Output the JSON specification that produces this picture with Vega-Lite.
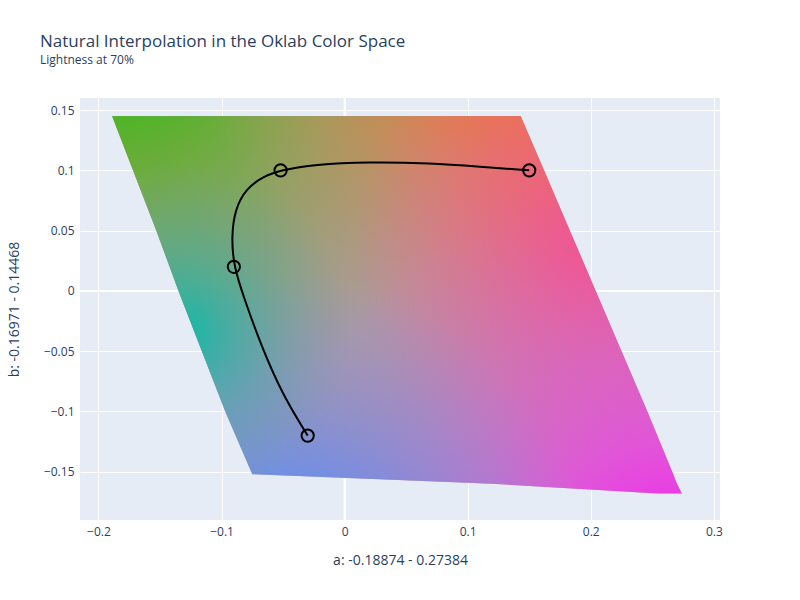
{
  "$schema": "https://vega.github.io/schema/vega-lite/v6.json",
  "width": 640,
  "height": 422,
  "autosize": {"type": "none"},
  "padding": {"left": 80, "top": 98, "right": 80, "bottom": 80},
  "background": "white",
  "title": {
    "text": "Natural Interpolation in the Oklab Color Space",
    "subtitle": "Lightness at 70%",
    "anchor": "start",
    "frame": "group",
    "dx": -40,
    "offset": 30,
    "font": "Open Sans",
    "fontSize": 17,
    "fontWeight": "normal",
    "color": "#2a3f5f",
    "subtitleFont": "Open Sans",
    "subtitleFontSize": 12,
    "subtitleColor": "#2a3f5f",
    "subtitlePadding": 4
  },
  "datasets": {
    "gamut": [
      {"b": 0.145, "xl": -0.189, "xr": 0.143},
      {"b": 0.1, "xl": -0.172, "xr": 0.162},
      {"b": 0.05, "xl": -0.153, "xr": 0.183},
      {"b": 0.0, "xl": -0.135, "xr": 0.204},
      {"b": -0.05, "xl": -0.116, "xr": 0.225},
      {"b": -0.1, "xl": -0.097, "xr": 0.246},
      {"b": -0.152, "xl": -0.075, "xr": 0.267},
      {"b": -0.16, "xl": 0.12, "xr": 0.27},
      {"b": -0.168, "xl": 0.255, "xr": 0.274}
    ],
    "path": [
      {"i": 0, "a": -0.03, "b": -0.12},
      {"i": 1, "a": -0.05, "b": -0.087},
      {"i": 2, "a": -0.068, "b": -0.045},
      {"i": 3, "a": -0.082, "b": -0.005},
      {"i": 4, "a": -0.09, "b": 0.02},
      {"i": 5, "a": -0.092, "b": 0.045},
      {"i": 6, "a": -0.089, "b": 0.068},
      {"i": 7, "a": -0.08, "b": 0.085},
      {"i": 8, "a": -0.066, "b": 0.095},
      {"i": 9, "a": -0.052, "b": 0.1},
      {"i": 10, "a": -0.025, "b": 0.105},
      {"i": 11, "a": 0.02, "b": 0.107},
      {"i": 12, "a": 0.07, "b": 0.106},
      {"i": 13, "a": 0.11, "b": 0.103},
      {"i": 14, "a": 0.15, "b": 0.1}
    ],
    "stops": [
      {"a": -0.03, "b": -0.12},
      {"a": -0.09, "b": 0.02},
      {"a": -0.052, "b": 0.1},
      {"a": 0.15, "b": 0.1}
    ]
  },
  "encoding": {
    "x": {"type": "quantitative", "scale": {"domain": [-0.215, 0.305], "nice": false, "zero": false}},
    "y": {"type": "quantitative", "scale": {"domain": [-0.19, 0.16], "nice": false, "zero": false}}
  },
  "layer": [
    {
      "data": {"values": [{"v": 0}]},
      "mark": {"type": "rule", "color": "white", "strokeWidth": 2},
      "encoding": {"x": {"field": "v", "type": "quantitative"}, "y": null}
    },
    {
      "data": {"values": [{"v": 0}]},
      "mark": {"type": "rule", "color": "white", "strokeWidth": 2},
      "encoding": {"y": {"field": "v", "type": "quantitative"}, "x": null}
    },
    {
      "data": {"name": "gamut"},
      "mark": {"type": "area", "orient": "horizontal", "color": "#ad9aa0"},
      "encoding": {
        "y": {"field": "b", "type": "quantitative"},
        "x": {"field": "xl", "type": "quantitative"},
        "x2": {"field": "xr"}
      }
    },
    {
      "data": {"name": "gamut"},
      "mark": {"type": "area", "orient": "horizontal", "color": {"gradient": "radial", "x1": 0, "y1": 0, "r1": 0, "x2": 0, "y2": 0, "r2": 0.7, "stops": [{"offset": 0, "color": "rgba(10,200,0,1)"}, {"offset": 0.35, "color": "rgba(80,180,20,0.75)"}, {"offset": 1, "color": "rgba(120,170,60,0)"}]}},
      "encoding": {"y": {"field": "b", "type": "quantitative"}, "x": {"field": "xl", "type": "quantitative"}, "x2": {"field": "xr"}}
    },
    {
      "data": {"name": "gamut"},
      "mark": {"type": "area", "orient": "horizontal", "color": {"gradient": "radial", "x1": 0.75, "y1": 0, "r1": 0, "x2": 0.75, "y2": 0, "r2": 0.6, "stops": [{"offset": 0, "color": "rgba(255,110,0,1)"}, {"offset": 0.4, "color": "rgba(240,120,40,0.7)"}, {"offset": 1, "color": "rgba(220,140,100,0)"}]}},
      "encoding": {"y": {"field": "b", "type": "quantitative"}, "x": {"field": "xl", "type": "quantitative"}, "x2": {"field": "xr"}}
    },
    {
      "data": {"name": "gamut"},
      "mark": {"type": "area", "orient": "horizontal", "color": {"gradient": "radial", "x1": 0.87, "y1": 0.4, "r1": 0, "x2": 0.87, "y2": 0.4, "r2": 0.45, "stops": [{"offset": 0, "color": "rgba(255,70,130,1)"}, {"offset": 1, "color": "rgba(240,100,160,0)"}]}},
      "encoding": {"y": {"field": "b", "type": "quantitative"}, "x": {"field": "xl", "type": "quantitative"}, "x2": {"field": "xr"}}
    },
    {
      "data": {"name": "gamut"},
      "mark": {"type": "area", "orient": "horizontal", "color": {"gradient": "radial", "x1": 1, "y1": 1, "r1": 0, "x2": 1, "y2": 1, "r2": 0.75, "stops": [{"offset": 0, "color": "rgba(255,10,250,1)"}, {"offset": 0.35, "color": "rgba(235,70,230,0.8)"}, {"offset": 1, "color": "rgba(200,120,200,0)"}]}},
      "encoding": {"y": {"field": "b", "type": "quantitative"}, "x": {"field": "xl", "type": "quantitative"}, "x2": {"field": "xr"}}
    },
    {
      "data": {"name": "gamut"},
      "mark": {"type": "area", "orient": "horizontal", "color": {"gradient": "radial", "x1": 0.3, "y1": 1, "r1": 0, "x2": 0.3, "y2": 1, "r2": 0.55, "stops": [{"offset": 0, "color": "rgba(0,170,255,1)"}, {"offset": 0.35, "color": "rgba(90,140,250,0.75)"}, {"offset": 1, "color": "rgba(140,140,220,0)"}]}},
      "encoding": {"y": {"field": "b", "type": "quantitative"}, "x": {"field": "xl", "type": "quantitative"}, "x2": {"field": "xr"}}
    },
    {
      "data": {"name": "gamut"},
      "mark": {"type": "area", "orient": "horizontal", "color": {"gradient": "radial", "x1": 0.12, "y1": 0.55, "r1": 0, "x2": 0.12, "y2": 0.55, "r2": 0.3, "stops": [{"offset": 0, "color": "rgba(0,190,170,0.9)"}, {"offset": 1, "color": "rgba(100,160,160,0)"}]}},
      "encoding": {"y": {"field": "b", "type": "quantitative"}, "x": {"field": "xl", "type": "quantitative"}, "x2": {"field": "xr"}}
    },
    {
      "data": {"name": "path"},
      "mark": {"type": "line", "color": "black", "strokeWidth": 2, "interpolate": "basis"},
      "encoding": {
        "x": {"field": "a", "type": "quantitative"},
        "y": {"field": "b", "type": "quantitative"},
        "order": {"field": "i"}
      }
    },
    {
      "data": {"name": "stops"},
      "mark": {"type": "point", "filled": false, "color": "black", "strokeWidth": 2, "size": 150, "opacity": 1},
      "encoding": {
        "x": {"field": "a", "type": "quantitative", "title": "a: -0.18874 - 0.27384", "axis": {"values": [-0.2, -0.1, 0, 0.1, 0.2, 0.3], "format": "~g", "titlePadding": 16}},
        "y": {"field": "b", "type": "quantitative", "title": "b: -0.16971 - 0.14468", "axis": {"values": [-0.15, -0.1, -0.05, 0, 0.05, 0.1, 0.15], "format": "~g", "titlePadding": 22}}
      }
    }
  ],
  "config": {
    "font": "Open Sans",
    "view": {"fill": "#e5ecf6", "stroke": null},
    "axis": {
      "gridColor": "white",
      "gridWidth": 1,
      "domain": false,
      "ticks": false,
      "labelColor": "#2a3f5f",
      "labelFontSize": 12,
      "titleColor": "#2a3f5f",
      "titleFontSize": 14,
      "titleFontWeight": "normal",
      "labelPadding": 6
    }
  }
}
